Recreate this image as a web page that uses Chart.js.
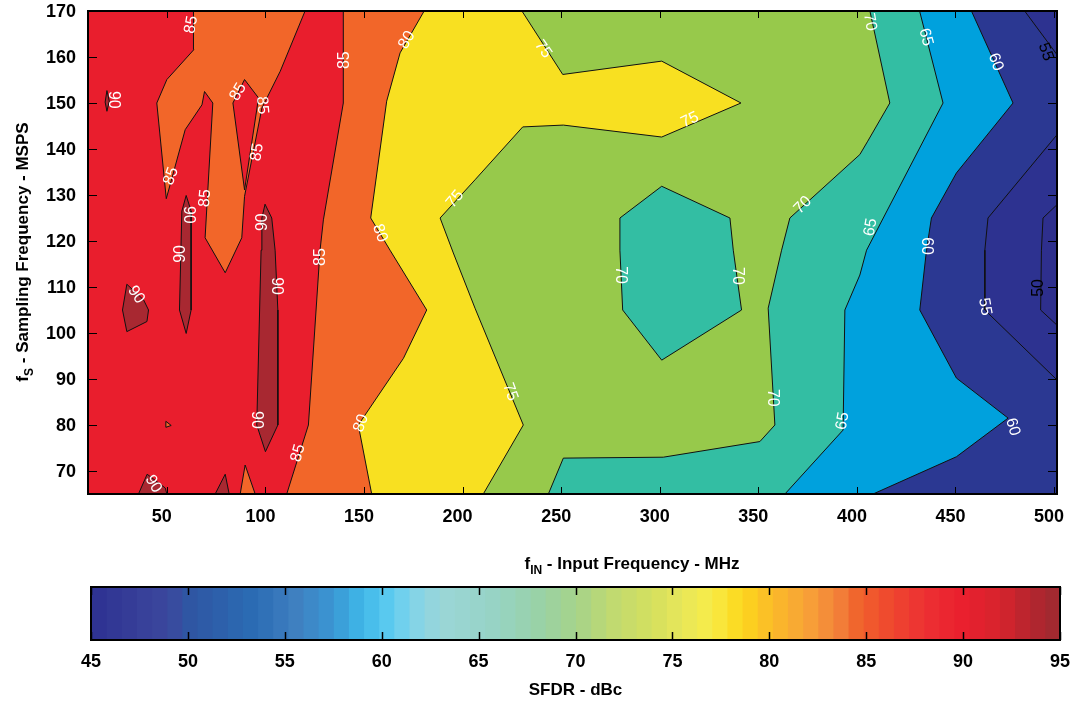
<!DOCTYPE html>
<html>
<head>
<meta charset="utf-8">
<script src="https://cdn.jsdelivr.net/npm/chart.js@4.4.1/dist/chart.umd.min.js"></script>
<style>
body { margin: 0; background: #fff; }
#wrap { position: relative; width: 1078px; height: 709px; }
#plot { position: absolute; left: 0; top: 0; }
#cbar { position: absolute; left: 0; top: 580px; }
</style>
</head>
<body>
<div id="wrap">
<canvas id="plot" width="1078" height="580"></canvas>
<canvas id="cbar" width="1078" height="129"></canvas>
</div>
<script>
// axes
var fMin = 10, fMax = 501.5;     // input frequency, MHz
var sMin = 65, sMax = 170;       // sampling frequency, MSPS
var xTicks = [50, 100, 150, 200, 250, 300, 350, 400, 450, 500];
var yTicks = [70, 80, 90, 100, 110, 120, 130, 140, 150, 160, 170];
var cbarTicks = [45, 50, 55, 60, 65, 70, 75, 80, 85, 90, 95];

// contour regions, [fIN MHz, fS MSPS]
var whole = [[10, 65], [10, 170], [501.5, 170], [501.5, 65]];
var orangeLobe = [[63.5, 170], [120.1, 170], [107.5, 156.9], [98.2, 148.9], [89.4, 129.7], [88.0, 120.7], [79.6, 113.1],
  [69.4, 120.7], [73.3, 150], [69.1, 152.5], [67.8, 149.6], [59.3, 144.2], [49.7, 129.2], [44.9, 150], [50.0, 155.1], [63.7, 161.6]];
var redDiamond = [[89.4, 155.1], [96.5, 151.1], [89.4, 131.1], [83.5, 150]];
var orangeMain = [[139.5, 170], [501.5, 170], [501.5, 65], [110.8, 65], [121.8, 80], [127.7, 118], [129.4, 124.6], [139.5, 150]];
var orangeSpike = [[87.2, 65], [89.7, 71.3], [94.8, 65]];
var orangeDot = [[49.5, 80.8], [52.2, 79.9], [49.5, 79.5]];
var yellow80 = [[180.5, 170], [501.5, 170], [501.5, 65], [153.9, 65], [147.1, 80], [170, 94.5], [181.8, 105], [163.2, 118],
  [153.4, 125], [161.5, 150.4], [168.3, 160.9]];
var green75 = [[230.1, 170], [501.5, 170], [501.5, 65], [210.5, 65], [230.8, 80], [206.3, 105.4], [195.3, 117.4], [188.6, 125],
  [206.3, 133.3], [230.5, 144.8], [251.1, 145.2], [301, 142.6], [341.2, 150], [301, 159.1], [250.8, 156.2]];
var teal70 = [[406.6, 170], [501.5, 170], [501.5, 65], [243.5, 65], [251.1, 72.8], [301.8, 73], [350.8, 76.4], [358.4, 80],
  [355, 105.4], [361.8, 118], [366, 125], [401.5, 138.8], [405.5, 141.7], [416.7, 150]];
var tealIsland = [[279.8, 125], [301, 131.9], [335.6, 125], [337.3, 118], [341.5, 105], [301, 94.1], [281.2, 105], [279.8, 118]];
var blue65 = [[431.8, 170], [501.5, 170], [501.5, 65], [363.5, 65], [393, 78.9], [393.9, 105], [401.5, 112.6], [404.9, 118], [443.7, 150]];
var navy60 = [[458.1, 170], [501.5, 170], [501.5, 65], [408.2, 65], [450.5, 73.1], [476.7, 81.5], [450.5, 90.2], [431.9, 105],
  [435.3, 118], [437.8, 125], [450.5, 134.8], [479.2, 150]];
var navy55a = [[485.1, 170], [501.5, 170], [501.5, 160.5]];
var navy55b = [[501.5, 143.1], [466.5, 125], [464.9, 118], [464.9, 105], [501.5, 89.8]];
var navy50 = [[501.5, 127.9], [494.4, 125], [493.6, 118], [493.2, 105], [501.5, 101.7]];
var maroon1 = [[19.6, 152.7], [20.8, 150.4], [19.6, 148.2], [18.7, 150.2]];
var maroon2 = [[59.8, 129.9], [62.3, 126.5], [62.3, 105], [59.8, 99.9], [56.4, 105], [57.6, 126.5]];
var maroon3 = [[99.8, 128], [103.2, 125], [104.9, 118], [106.3, 105], [106.3, 80], [100, 74.2], [95.6, 80], [97.8, 118], [98.2, 125]];
var maroon4 = [[29.7, 110.6], [38.2, 107.2], [40.7, 105], [39.9, 102.5], [29.7, 100.3], [27.5, 105]];
var maroon5 = [[35.6, 65], [40, 69.3], [49.2, 66.3], [50, 65]];
var maroon6 = [[74.5, 65], [79.6, 69.3], [81.6, 65]];

// contour labels
var labelText = ["85", "90", "85", "85", "85", "85", "85", "90", "90", "90", "90", "90", "90", "90", "85", "85", "85",
  "80", "80", "80", "75", "75", "75", "75", "70", "70", "70", "70", "70", "65", "65", "65", "60", "60", "60", "55", "55", "50"];
var labelF = [62.4, 22.8, 86.2, 98.3, 95.8, 52.2, 69.4, 60.8, 98.8, 56.8, 34.4, 105.4, 95.3, 43.1, 116.6, 128.2, 139.9,
  171.8, 158.1, 148.5, 196.2, 240.8, 315.3, 224.1, 279.8, 339.6, 357.4, 372.6, 406.6, 434.9, 407, 392.8, 470.4, 435.4, 479,
  495.8, 464.9, 492.2];
var labelS = [167, 150.7, 152.4, 149.5, 139.3, 134.1, 129.3, 125.7, 124.1, 117.2, 108.3, 110.2, 81.1, 67.2, 73.9, 116.5, 159.3,
  163.7, 121.7, 80.4, 129.1, 161.7, 146.3, 87.2, 112.6, 112.4, 85.9, 127.8, 167.6, 164.3, 123, 80.9, 158.9, 118.9, 79.6,
  161.1, 105.7, 109.8];
var labelAngle = [-80, 90, -60, 85, -80, -70, -85, 90, -90, -90, 55, 90, 90, 60, -75, -90, -90,
  -60, 70, -70, -50, 55, -25, 70, 90, 90, 90, -45, 80, 75, -80, -80, 70, 90, 75, 70, 80, -90];
var darkLabels = [35, 37];

// colour bar stops [dBc, colour]
var cbarStops = [[45, "#2e3192"], [49, "#3c489d"], [50, "#2f55a3"], [53.5, "#2b6db4"], [55.5, "#3f7fc0"], [57.5, "#3a97d4"],
  [59, "#3fb8e9"], [60.5, "#5fcdf0"], [61.5, "#80d3ea"], [63, "#9ad6d8"], [66, "#97d3c3"], [68, "#99d2a8"], [70, "#a6d38a"],
  [72, "#c2da6f"], [74, "#d5e05e"], [75.5, "#e8e75a"], [77, "#f8ec47"], [78.5, "#fcd81c"], [80, "#fbbd28"], [82, "#f7a038"],
  [83.5, "#f2823a"], [84.5, "#f0652c"], [86, "#ef4b2e"], [88, "#ec3033"], [90, "#ea1f2e"], [92, "#d4242d"], [93.5, "#b5252e"],
  [95, "#9b2a31"]];
var cbarSteps = 64;

var FONT = '"Liberation Sans", Arial, sans-serif';

function pts(a) { return a.map(function (p) { return { x: p[0], y: p[1] }; }).concat([{ x: a[0][0], y: a[0][1] }]); }

var layers = [
  [whole, "#e91e2d", false],
  [orangeLobe, "#f26629", true],
  [redDiamond, "#e91e2d", true],
  [orangeMain, "#f26629", true],
  [orangeSpike, "#f26629", true],
  [orangeDot, "#f26629", true],
  [yellow80, "#f8e021", true],
  [green75, "#97c94b", true],
  [teal70, "#33bea3", true],
  [tealIsland, "#33bea3", true],
  [blue65, "#00a1dd", true],
  [navy60, "#2b3892", true],
  [navy55a, "#2d3290", true],
  [navy55b, "#2d3290", true],
  [navy50, "#2e2f8d", true],
  [maroon1, "#a82831", true],
  [maroon2, "#a82831", true],
  [maroon3, "#a82831", true],
  [maroon4, "#a82831", true],
  [maroon5, "#a82831", true],
  [maroon6, "#a82831", true]
];

var datasets = layers.map(function (l, i) {
  return {
    data: pts(l[0]),
    showLine: true,
    fill: 'shape',
    backgroundColor: l[1],
    borderColor: l[2] ? '#111' : l[1],
    borderWidth: 1,
    pointRadius: 0,
    tension: 0,
    order: -i
  };
});

function drawSub(ctx, cx, cy, parts) {
  // parts: [text, size, dy]
  var w = 0;
  parts.forEach(function (p) { ctx.font = 'bold ' + p[1] + 'px ' + FONT; w += ctx.measureText(p[0]).width; });
  var x = cx - w / 2;
  parts.forEach(function (p) {
    ctx.font = 'bold ' + p[1] + 'px ' + FONT;
    ctx.fillText(p[0], x, cy + p[2]);
    x += ctx.measureText(p[0]).width;
  });
}

var plotDecor = {
  id: 'plotDecor',
  afterDatasetsDraw: function (chart) {
    var ctx = chart.ctx, a = chart.chartArea, xs = chart.scales.x, ys = chart.scales.y;
    ctx.save();
    // contour labels
    ctx.font = '16px ' + FONT;
    ctx.textAlign = 'center';
    ctx.textBaseline = 'middle';
    labelText.forEach(function (t, i) {
      ctx.save();
      ctx.translate(xs.getPixelForValue(labelF[i]), ys.getPixelForValue(labelS[i]));
      ctx.rotate(labelAngle[i] * Math.PI / 180);
      ctx.fillStyle = darkLabels.indexOf(i) >= 0 ? '#000' : '#fff';
      ctx.fillText(t, 0, 0);
      ctx.restore();
    });
    // frame and inward ticks
    ctx.strokeStyle = '#000';
    ctx.lineWidth = 1;
    ctx.beginPath();
    yTicks.forEach(function (v) {
      var py = Math.round(ys.getPixelForValue(v)) + 0.5;
      ctx.moveTo(a.left, py); ctx.lineTo(a.left + 9, py);
      ctx.moveTo(a.right, py); ctx.lineTo(a.right - 9, py);
    });
    xTicks.forEach(function (v) {
      var px = Math.round(xs.getPixelForValue(v)) + 0.5;
      ctx.moveTo(px, a.bottom); ctx.lineTo(px, a.bottom - 7);
      ctx.moveTo(px, a.top); ctx.lineTo(px, a.top + 7);
    });
    ctx.stroke();
    ctx.lineWidth = 2;
    ctx.strokeRect(a.left, a.top, a.right - a.left, a.bottom - a.top);
    // axis titles with subscripts
    ctx.fillStyle = '#000';
    ctx.textAlign = 'left';
    ctx.textBaseline = 'alphabetic';
    drawSub(ctx, 632, 569, [['f', 17, 0], ['IN', 12, 5], [' - Input Frequency - MHz', 17, 0]]);
    ctx.translate(28, 252);
    ctx.rotate(-Math.PI / 2);
    drawSub(ctx, 0, 0, [['f', 17, 0], ['S', 12, 5], [' - Sampling Frequency - MSPS', 17, 0]]);
    ctx.restore();
  }
};

new Chart(document.getElementById('plot'), {
  type: 'scatter',
  data: { datasets: datasets },
  options: {
    responsive: false,
    animation: false,
    events: [],
    layout: { padding: { top: 11, right: 21, left: 0, bottom: 0 } },
    plugins: { legend: { display: false }, tooltip: { enabled: false } },
    scales: {
      x: {
        type: 'linear', min: fMin, max: fMax,
        afterBuildTicks: function (s) { s.ticks = xTicks.map(function (v) { return { value: v }; }); },
        afterFit: function (s) { s.height = 86; s.paddingLeft = 0; s.paddingRight = 0; },
        grid: { display: false, drawTicks: false },
        border: { display: false },
        ticks: { padding: 12, labelOffset: -5, color: '#000', font: { family: FONT, size: 18, weight: 'bold' } }
      },
      y: {
        type: 'linear', min: sMin, max: sMax,
        afterBuildTicks: function (s) { s.ticks = yTicks.map(function (v) { return { value: v }; }); },
        afterFit: function (s) { s.width = 88; s.paddingTop = 0; s.paddingBottom = 0; },
        grid: { display: false, drawTicks: false },
        border: { display: false },
        ticks: { padding: 12, labelOffset: 1, color: '#000', font: { family: FONT, size: 18, weight: 'bold' } }
      }
    }
  },
  plugins: [plotDecor]
});

// colour bar
function hex(c) { return [parseInt(c.substr(1, 2), 16), parseInt(c.substr(3, 2), 16), parseInt(c.substr(5, 2), 16)]; }
function cmap(v) {
  for (var i = 1; i < cbarStops.length; i++) {
    if (v <= cbarStops[i][0]) {
      var a = cbarStops[i - 1], b = cbarStops[i], t = (v - a[0]) / (b[0] - a[0]);
      var ca = hex(a[1]), cb = hex(b[1]);
      return 'rgb(' + ca.map(function (c, k) { return Math.round(c + (cb[k] - c) * t); }).join(',') + ')';
    }
  }
  return cbarStops[cbarStops.length - 1][1];
}
var cbarW = (cbarTicks[cbarTicks.length - 1] - cbarTicks[0]) / cbarSteps;
var cells = [];
for (var i = 0; i < cbarSteps; i++) {
  var lo = cbarTicks[0] + i * cbarW;
  cells.push({ data: [[lo, lo + cbarW + 0.01]], backgroundColor: cmap(lo + cbarW / 2), borderWidth: 0,
    barPercentage: 1, categoryPercentage: 1, grouped: false });
}

var cbarDecor = {
  id: 'cbarDecor',
  afterDatasetsDraw: function (chart) {
    var ctx = chart.ctx, a = chart.chartArea, xs = chart.scales.x;
    ctx.save();
    ctx.strokeStyle = '#000';
    ctx.lineWidth = 1.5;
    ctx.beginPath();
    cbarTicks.forEach(function (v) {
      var px = Math.round(xs.getPixelForValue(v)) + 0.5;
      ctx.moveTo(px, a.top); ctx.lineTo(px, a.top + 8);
      ctx.moveTo(px, a.bottom); ctx.lineTo(px, a.bottom - 8);
    });
    ctx.stroke();
    ctx.lineWidth = 2;
    ctx.strokeRect(a.left, a.top, a.right - a.left, a.bottom - a.top);
    ctx.restore();
  }
};

new Chart(document.getElementById('cbar'), {
  type: 'bar',
  data: { labels: [''], datasets: cells },
  options: {
    indexAxis: 'y',
    responsive: false,
    animation: false,
    events: [],
    layout: { padding: { top: 7, left: 91, right: 18, bottom: 0 } },
    plugins: { legend: { display: false }, tooltip: { enabled: false } },
    scales: {
      x: {
        type: 'linear', min: 45, max: 95,
        afterBuildTicks: function (s) { s.ticks = cbarTicks.map(function (v) { return { value: v }; }); },
        afterFit: function (s) { s.height = 69; s.paddingLeft = 0; s.paddingRight = 0; },
        grid: { display: false, drawTicks: false },
        border: { display: false },
        ticks: { padding: 11, color: '#000', font: { family: FONT, size: 18, weight: 'bold' } },
        title: { display: true, text: 'SFDR - dBc', color: '#000', padding: { top: 0, bottom: 8 },
          font: { family: FONT, size: 17, weight: 'bold' } }
      },
      y: { display: false }
    }
  },
  plugins: [cbarDecor]
});
</script>
</body>
</html>
